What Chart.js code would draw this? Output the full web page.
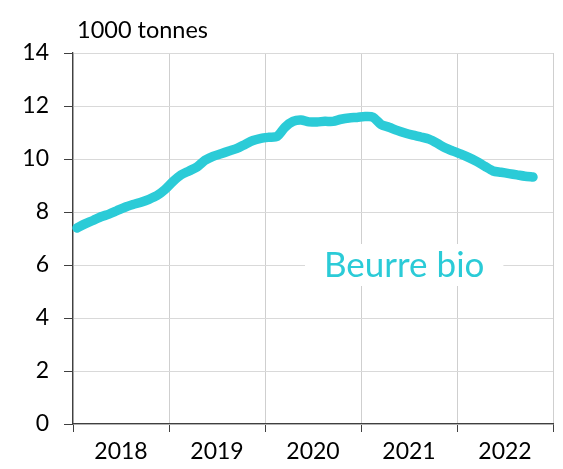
<!DOCTYPE html>
<html>
<head>
<meta charset="utf-8">
<script src="https://cdn.jsdelivr.net/npm/chart.js@4"></script>
<style>
  html, body { margin: 0; padding: 0; background: #fff; }
  #wrap { width: 563px; height: 469px; }
</style>
</head>
<body>
<div id="wrap"><canvas id="chart"></canvas></div>
<script>
// yearly categories, monthly values from Jan 2018 to Oct 2022 (1000 tonnes)
const years = ['2018', '2019', '2020', '2021', '2022'];
const butter = [
  7.40, 7.55, 7.68, 7.82, 7.92, 8.05, 8.18, 8.28, 8.37, 8.48, 8.62, 8.85,
  9.15, 9.40, 9.55, 9.70, 9.95, 10.10, 10.20, 10.30, 10.40, 10.55, 10.70, 10.78,
  10.82, 10.85, 11.20, 11.42, 11.47, 11.40, 11.40, 11.42, 11.42, 11.50, 11.55, 11.57,
  11.60, 11.58, 11.30, 11.20, 11.08, 10.98, 10.90, 10.83, 10.75, 10.60, 10.42, 10.30,
  10.18, 10.05, 9.90, 9.72, 9.55, 9.50, 9.45, 9.40, 9.35, 9.32
];
const yMax = 14;
const yStep = 2;
const unitLabel = '1000 tonnes';
const seriesLabel = 'Beurre bio';

const lineColor = '#2bcbd7';
const fontFamily = 'Lato, "Open Sans", sans-serif';

const points = butter.map((v, i) => ({ x: i + 0.5, y: v }));

const textPlugin = {
  id: 'texts',
  afterDraw(chart) {
    const ctx = chart.ctx;
    const area = chart.chartArea;
    const xs = chart.scales.x;
    const ys = chart.scales.y;
    ctx.save();
    // unit label above the axis
    ctx.font = '23.5px ' + fontFamily;
    ctx.fillStyle = '#000';
    ctx.textAlign = 'left';
    ctx.textBaseline = 'alphabetic';
    ctx.fillText(unitLabel, area.left + 4, area.top - 15);

    // series label with white box
    ctx.font = '35px ' + fontFamily;
    const cx = xs.getPixelForValue(41.4);
    const cy = ys.getPixelForValue(6);
    const w = ctx.measureText(seriesLabel).width + 38;
    ctx.fillStyle = '#fff';
    ctx.fillRect(cx - w / 2, cy - 21, w, 42);
    ctx.fillStyle = lineColor;
    ctx.textAlign = 'center';
    ctx.textBaseline = 'middle';
    ctx.fillText(seriesLabel, cx, cy + 1);
    ctx.restore();
  }
};

new Chart(document.getElementById('chart'), {
  type: 'line',
  data: {
    datasets: [{
      label: seriesLabel,
      data: points,
      borderColor: lineColor,
      borderWidth: 9.5,
      pointRadius: 0,
      tension: 0.25,
      borderCapStyle: 'round',
      borderJoinStyle: 'round',
      clip: false
    }]
  },
  options: {
    responsive: true,
    maintainAspectRatio: false,
    animation: false,
    layout: { padding: { top: 53, right: 10, left: 0, bottom: 0 } },
    plugins: {
      legend: { display: false },
      tooltip: { enabled: false }
    },
    scales: {
      x: {
        type: 'linear',
        min: 0,
        max: years.length * 12,
        afterBuildTicks: axis => {
          const t = [];
          for (let v = 0; v <= years.length * 12; v += 6) t.push({ value: v });
          axis.ticks = t;
        },
        afterFit: axis => { axis.height = 45; },
        ticks: {
          autoSkip: false,
          maxRotation: 0,
          padding: 6,
          color: '#000',
          font: { family: fontFamily, size: 23 },
          callback: v => (v % 12 === 6 ? years[(v - 6) / 12] : '')
        },
        grid: {
          color: c => (c.tick && c.tick.value % 12 === 0 ? '#cfcfcf' : 'rgba(0,0,0,0)'),
          tickColor: c => (c.tick && c.tick.value % 12 === 0 ? '#404040' : 'rgba(0,0,0,0)'),
          tickLength: 8,
          lineWidth: 1
        },
        border: { color: '#404040', width: 1.3 }
      },
      y: {
        min: 0,
        max: yMax,
        afterFit: axis => { axis.width = 73; },
        ticks: {
          stepSize: yStep,
          padding: 15,
          color: '#000',
          font: { family: fontFamily, size: 23 }
        },
        grid: {
          color: '#d9d9d9',
          tickColor: '#404040',
          tickLength: 9,
          lineWidth: 1
        },
        border: { color: '#404040', width: 1.3 }
      }
    }
  },
  plugins: [textPlugin]
});
</script>
</body>
</html>
